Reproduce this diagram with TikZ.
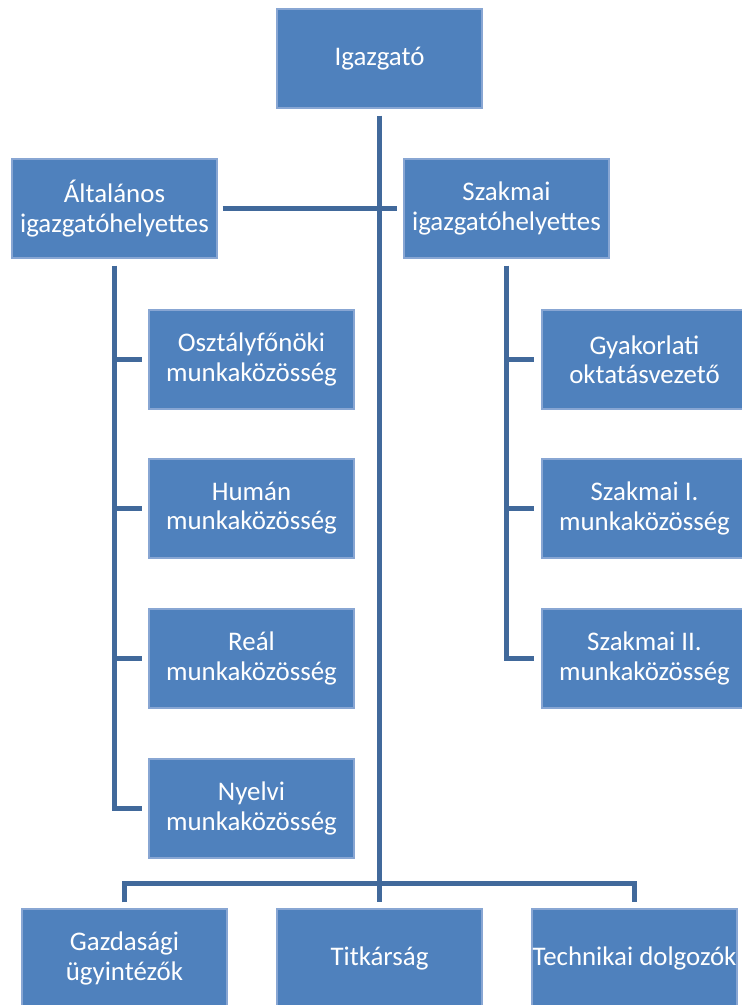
\documentclass[tikz,border=0pt]{standalone}
\usepackage{fontspec}
\setmainfont{Carlito}
\usepackage{tikz}
\definecolor{boxblue}{HTML}{4F81BD}
\definecolor{boxedge}{HTML}{88A6D3}
\definecolor{linkblue}{HTML}{41699B}
\tikzset{
    unit/.style={rectangle, fill=boxblue, draw=boxedge, line width=0.6pt,
      minimum width=4.1cm, minimum height=1.98cm, inner xsep=0pt, inner ysep=2pt,
      text=white, align=center, font=\fontsize{15.3}{16.6}\selectfont},
    link/.style={draw=linkblue, line width=0.1cm},
}

\begin{document}
\begin{tikzpicture}[x=0.02cm, y=0.02cm]
        \useasboundingbox (0,0) rectangle (742,-1005);
        % top
        \node[unit] (igazgato) at (379.5,-58.5) {Igazgató};
        \node[unit] (altalanos) at (114.5,-208.5) {Általános\\igazgatóhelyettes};
        \node[unit] (szakmai) at (506.5,-208.5) {Szakmai\\igazgatóhelyettes};
        % left column
        \node[unit] (osztaly) at (251.5,-359.5) {Osztályfőnöki\\munkaközösség};
        \node[unit] (human) at (251.5,-508.5) {Humán\\munkaközösség};
        \node[unit] (real) at (251.5,-658.5) {Reál\\munkaközösség};
        \node[unit] (nyelvi) at (251.5,-808.5) {Nyelvi\\munkaközösség};
        % right column
        \node[unit] (gyakorlati) at (644.5,-359.5) {Gyakorlati\\oktatásvezető};
        \node[unit] (szakmaiI) at (644.5,-508.5) {Szakmai I.\\munkaközösség};
        \node[unit] (szakmaiII) at (644.5,-658.5) {Szakmai II.\\munkaközösség};
        % bottom row
        \node[unit] (gazdasagi) at (124.5,-958.5) {Gazdasági\\ügyintézők};
        \node[unit] (titkarsag) at (379.5,-958.5) {Titkárság};
        \node[unit] (technikai) at (634.5,-958.5) {Technikai dolgozók};

        \draw[link, shorten <=0.14cm, shorten >=0.12cm] (igazgato) -- (titkarsag);
        \draw[link, shorten <=0.1cm, shorten >=0.12cm] (altalanos) -- (szakmai);

        \draw[link] ([yshift=-0.14cm]altalanos.south) |- ([xshift=-0.12cm]nyelvi.west);
        \foreach \n in {osztaly, human, real}
          \draw[link] (altalanos.south |- \n.west) -- ([xshift=-0.12cm]\n.west);

        \draw[link] ([yshift=-0.14cm]szakmai.south) |- ([xshift=-0.14cm]szakmaiII.west);
        \foreach \n in {gyakorlati, szakmaiI}
          \draw[link] (szakmai.south |- \n.west) -- ([xshift=-0.14cm]\n.west);

        \draw[link] ([yshift=0.12cm]gazdasagi.north) -- ++(0,0.38cm)
          -| ([yshift=0.12cm]technikai.north);
      \end{tikzpicture}
\end{document}
